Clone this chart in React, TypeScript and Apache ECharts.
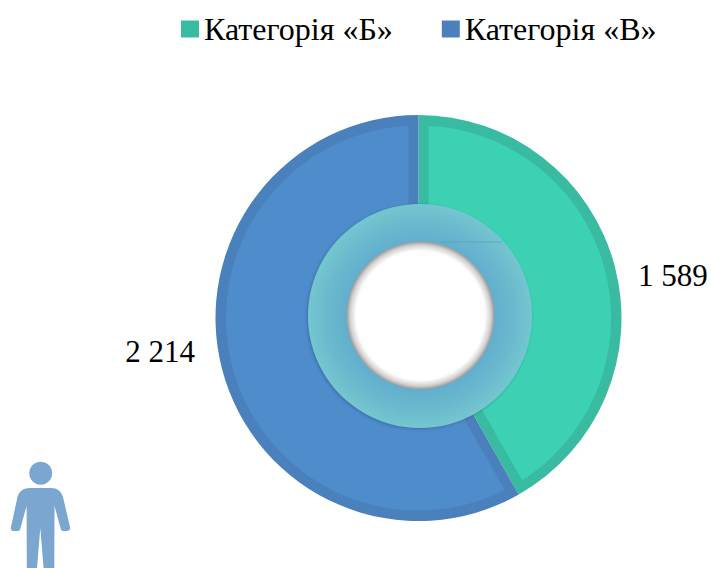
import React, { useEffect, useRef } from "react";
import * as echarts from "echarts";

const categories = ["Категорія «Б»", "Категорія «В»"];
const seriesValues = [1589, 2214];
const valueLabels = ["1 589", "2 214"];
const borderColors = ["#38BBA0", "#4A80BB"];
const fillColors = ["#3DD1B3", "#4E8CCB"];

const CX = 418.5;
const CY = 318;
const R_OUT = 203;
const R_FILL = 192.5;
const GAP = 10;
const FONT = "'Liberation Serif', 'Times New Roman', serif";

const personPath =
  "M40.7 461.8a11.5 11.5 0 1 0 0.01 0z" +
  "M30 488L51 488C57 488 61 491 63 497L70 527C70.5 530 69 531 66.5 531L63 531C61.5 531 61 530 60.5 528L54.5 506L54.3 568L43.6 568L40.3 528L37 568L26.8 568L26.6 506L20.5 528C20 530 19.5 531 18 531L13.5 531C11.5 531 10.5 529.5 11 527L17.5 497C19 491 24 488 30 488Z";

echarts.graphic.registerShape("person", echarts.graphic.extendPath(personPath, {}));

const total = seriesValues.reduce((a, b) => a + b, 0);
const sliceAngles = seriesValues.map((v, i) => {
  const before = seriesValues.slice(0, i).reduce((a, b) => a + b, 0);
  return [i, (before / total) * 360, ((before + v) / total) * 360];
});

const point = (deg: number, r: number) => {
  const a = (deg * Math.PI) / 180;
  return [CX + r * Math.sin(a), CY - r * Math.cos(a)];
};

const renderInset = (_p: any, api: any) => {
  const idx = api.value(0);
  const a0 = api.value(1);
  const a1 = api.value(2);
  const arc = (r: number) => {
    const pad = (Math.asin(GAP / r) * 180) / Math.PI;
    const out: number[][] = [];
    const n = 160;
    for (let k = 0; k <= n; k++) out.push(point(a0 + pad + ((a1 - a0 - 2 * pad) * k) / n, r));
    return out;
  };
  return {
    type: "polygon",
    shape: { points: [...arc(R_FILL), ...arc(95).reverse()] },
    style: { fill: fillColors[idx] },
  };
};

export default function App() {
  const ref = useRef<HTMLDivElement>(null);
  useEffect(() => {
    document.body.style.margin = "0";
    const chart = echarts.init(ref.current!, null, { renderer: "svg" });
    chart.setOption({
      animation: false,
      backgroundColor: "#fff",
      legend: {
        top: 8,
        left: 176,
        itemWidth: 18,
        itemHeight: 17,
        itemGap: 49,
        itemTextGap: 7,
        icon: "rect",
        textStyle: { fontFamily: FONT, fontSize: 32, color: "#000", padding: [4, 0, 0, 0] },
        data: categories,
      },
      series: [
        {
          type: "pie",
          center: [CX, CY],
          radius: [90, R_OUT],
          startAngle: 90,
          clockwise: true,
          silent: true,
          data: categories.map((name, i) => ({
            name,
            value: seriesValues[i],
            itemStyle: { color: borderColors[i] },
            label: { formatter: valueLabels[i] },
          })),
          label: { show: true, fontFamily: FONT, fontSize: 31, color: "#000", overflow: "none" },
          labelLine: { show: false },
          labelLayout: (p: any) =>
            p.dataIndex === 0
              ? { x: 638, y: 275, align: "left", verticalAlign: "middle" }
              : { x: 195, y: 351, align: "right", verticalAlign: "middle" },
        },
        {
          type: "custom",
          coordinateSystem: "none",
          silent: true,
          z: 3,
          data: sliceAngles,
          renderItem: renderInset,
        },
      ],
      graphic: [
        {
          type: "circle",
          z: 100,
          shape: { cx: 420, cy: 316, r: 112 },
          style: {
            fill: {
              type: "radial",
              x: 0.5,
              y: 0.5,
              r: 0.5,
              colorStops: [
                { offset: 0, color: "#62AECE" },
                { offset: 0.66, color: "#63AFCE" },
                { offset: 0.82, color: "#69B8CE" },
                { offset: 1, color: "#74C6CF" },
              ],
            },
            shadowBlur: 3,
            shadowColor: "rgba(40,70,120,0.45)",
            shadowOffsetX: -1,
            shadowOffsetY: 1,
          },
        },
        {
          type: "line",
          z: 101,
          shape: { x1: 440, y1: 242, x2: 502, y2: 242 },
          style: { stroke: "#58A2B8", lineWidth: 0.7 },
        },
        {
          type: "circle",
          z: 102,
          shape: { cx: 420.5, cy: 315.5, r: 74 },
          style: {
            fill: {
              type: "radial",
              x: 0.5,
              y: 0.5,
              r: 0.5,
              colorStops: [
                { offset: 0, color: "#FFFFFF" },
                { offset: 0.87, color: "#FFFFFF" },
                { offset: 0.95, color: "#D2D2D2" },
                { offset: 1, color: "#999999" },
              ],
            },
          },
        },
        {
          type: "person",
          z: 103,
          x: 0,
          y: 0,
          style: { fill: "#7AA6CF" },
        },
      ],
    });
    return () => chart.dispose();
  }, []);
  return <div ref={ref} style={{ width: 711, height: 568, overflow: "hidden" }} />;
}
